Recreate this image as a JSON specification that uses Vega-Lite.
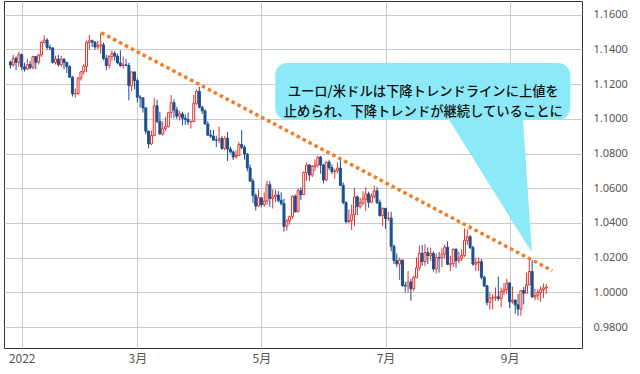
{
  "$schema": "https://vega.github.io/schema/vega-lite/v6.json",
  "width": 578,
  "height": 347,
  "autosize": {"type": "none"},
  "padding": {"left": 4, "top": 1, "right": 58, "bottom": 26},
  "background": "white",
  "config": {
    "view": {"stroke": "#333333", "strokeWidth": 1},
    "font": "Noto Sans",
    "axis": {"labelOverlap": false, "labelFlush": false}
  },
  "datasets": {
    "fx": [
      {"d":"2021-12-28","o":1.1327,"h":1.1335,"l":1.1290,"c":1.1310},
      {"d":"2021-12-29","o":1.1310,"h":1.1369,"l":1.1300,"c":1.1348},
      {"d":"2021-12-30","o":1.1348,"h":1.1360,"l":1.1280,"c":1.1325},
      {"d":"2021-12-31","o":1.1325,"h":1.1386,"l":1.1300,"c":1.1370},
      {"d":"2022-01-03","o":1.1370,"h":1.1376,"l":1.1280,"c":1.1299},
      {"d":"2022-01-04","o":1.1299,"h":1.1323,"l":1.1272,"c":1.1286},
      {"d":"2022-01-05","o":1.1286,"h":1.1346,"l":1.1284,"c":1.1313},
      {"d":"2022-01-06","o":1.1313,"h":1.1332,"l":1.1285,"c":1.1295},
      {"d":"2022-01-07","o":1.1295,"h":1.1364,"l":1.1285,"c":1.1359},
      {"d":"2022-01-10","o":1.1359,"h":1.1362,"l":1.1285,"c":1.1326},
      {"d":"2022-01-11","o":1.1326,"h":1.1375,"l":1.1314,"c":1.1368},
      {"d":"2022-01-12","o":1.1368,"h":1.1449,"l":1.1356,"c":1.1440},
      {"d":"2022-01-13","o":1.1440,"h":1.1482,"l":1.1434,"c":1.1454},
      {"d":"2022-01-14","o":1.1454,"h":1.1465,"l":1.1398,"c":1.1412},
      {"d":"2022-01-17","o":1.1412,"h":1.1428,"l":1.1394,"c":1.1408},
      {"d":"2022-01-18","o":1.1408,"h":1.1414,"l":1.1318,"c":1.1325},
      {"d":"2022-01-19","o":1.1325,"h":1.1364,"l":1.1313,"c":1.1344},
      {"d":"2022-01-20","o":1.1344,"h":1.1369,"l":1.1301,"c":1.1312},
      {"d":"2022-01-21","o":1.1312,"h":1.1363,"l":1.1300,"c":1.1344},
      {"d":"2022-01-24","o":1.1344,"h":1.1349,"l":1.1285,"c":1.1325},
      {"d":"2022-01-25","o":1.1325,"h":1.1328,"l":1.1264,"c":1.1300},
      {"d":"2022-01-26","o":1.1300,"h":1.1309,"l":1.1235,"c":1.1240},
      {"d":"2022-01-27","o":1.1240,"h":1.1246,"l":1.1128,"c":1.1144},
      {"d":"2022-01-28","o":1.1144,"h":1.1175,"l":1.1121,"c":1.1146},
      {"d":"2022-01-31","o":1.1146,"h":1.1240,"l":1.1138,"c":1.1235},
      {"d":"2022-02-01","o":1.1235,"h":1.1275,"l":1.1220,"c":1.1271},
      {"d":"2022-02-02","o":1.1271,"h":1.1315,"l":1.1255,"c":1.1303},
      {"d":"2022-02-03","o":1.1303,"h":1.1450,"l":1.1268,"c":1.1440},
      {"d":"2022-02-04","o":1.1440,"h":1.1483,"l":1.1398,"c":1.1450},
      {"d":"2022-02-07","o":1.1450,"h":1.1457,"l":1.1414,"c":1.1442},
      {"d":"2022-02-08","o":1.1442,"h":1.1446,"l":1.1398,"c":1.1414},
      {"d":"2022-02-09","o":1.1414,"h":1.1449,"l":1.1402,"c":1.1423},
      {"d":"2022-02-10","o":1.1423,"h":1.1495,"l":1.1375,"c":1.1426},
      {"d":"2022-02-11","o":1.1426,"h":1.1438,"l":1.1338,"c":1.1348},
      {"d":"2022-02-14","o":1.1348,"h":1.1369,"l":1.1280,"c":1.1307},
      {"d":"2022-02-15","o":1.1307,"h":1.1367,"l":1.1290,"c":1.1359},
      {"d":"2022-02-16","o":1.1359,"h":1.1395,"l":1.1335,"c":1.1377},
      {"d":"2022-02-17","o":1.1377,"h":1.1390,"l":1.1335,"c":1.1361},
      {"d":"2022-02-18","o":1.1361,"h":1.1375,"l":1.1314,"c":1.1322},
      {"d":"2022-02-21","o":1.1322,"h":1.1395,"l":1.1300,"c":1.1307},
      {"d":"2022-02-22","o":1.1307,"h":1.1360,"l":1.1290,"c":1.1311},
      {"d":"2022-02-23","o":1.1311,"h":1.1345,"l":1.1305,"c":1.1308},
      {"d":"2022-02-24","o":1.1308,"h":1.1322,"l":1.1106,"c":1.1191},
      {"d":"2022-02-25","o":1.1191,"h":1.1274,"l":1.1158,"c":1.1270},
      {"d":"2022-02-28","o":1.1270,"h":1.1274,"l":1.1170,"c":1.1220},
      {"d":"2022-03-01","o":1.1220,"h":1.1234,"l":1.1094,"c":1.1125},
      {"d":"2022-03-02","o":1.1125,"h":1.1138,"l":1.1065,"c":1.1120},
      {"d":"2022-03-03","o":1.1120,"h":1.1124,"l":1.1036,"c":1.1063},
      {"d":"2022-03-04","o":1.1063,"h":1.1066,"l":1.0910,"c":1.0929},
      {"d":"2022-03-07","o":1.0929,"h":1.0932,"l":1.0830,"c":1.0855},
      {"d":"2022-03-08","o":1.0855,"h":1.0932,"l":1.0848,"c":1.0903},
      {"d":"2022-03-09","o":1.0903,"h":1.1120,"l":1.0900,"c":1.1075},
      {"d":"2022-03-10","o":1.1075,"h":1.1110,"l":1.0975,"c":1.0985},
      {"d":"2022-03-11","o":1.0985,"h":1.1040,"l":1.0910,"c":1.0912},
      {"d":"2022-03-14","o":1.0912,"h":1.0985,"l":1.0903,"c":1.0942},
      {"d":"2022-03-15","o":1.0942,"h":1.1010,"l":1.0930,"c":1.0955},
      {"d":"2022-03-16","o":1.0955,"h":1.1040,"l":1.0950,"c":1.1035},
      {"d":"2022-03-17","o":1.1035,"h":1.1137,"l":1.1005,"c":1.1093},
      {"d":"2022-03-18","o":1.1093,"h":1.1112,"l":1.1004,"c":1.1051},
      {"d":"2022-03-21","o":1.1051,"h":1.1070,"l":1.1000,"c":1.1015},
      {"d":"2022-03-22","o":1.1015,"h":1.1045,"l":1.0990,"c":1.1028},
      {"d":"2022-03-23","o":1.1028,"h":1.1040,"l":1.0962,"c":1.1003},
      {"d":"2022-03-24","o":1.1003,"h":1.1025,"l":1.0965,"c":1.0996},
      {"d":"2022-03-25","o":1.0996,"h":1.1036,"l":1.0964,"c":1.0983},
      {"d":"2022-03-28","o":1.0983,"h":1.0990,"l":1.0944,"c":1.0984},
      {"d":"2022-03-29","o":1.0984,"h":1.1137,"l":1.0981,"c":1.1089},
      {"d":"2022-03-30","o":1.1089,"h":1.1170,"l":1.1080,"c":1.1158},
      {"d":"2022-03-31","o":1.1158,"h":1.1185,"l":1.1060,"c":1.1067},
      {"d":"2022-04-01","o":1.1067,"h":1.1076,"l":1.1027,"c":1.1046},
      {"d":"2022-04-04","o":1.1046,"h":1.1054,"l":1.0968,"c":1.0970},
      {"d":"2022-04-05","o":1.0970,"h":1.0985,"l":1.0902,"c":1.0906},
      {"d":"2022-04-06","o":1.0906,"h":1.0937,"l":1.0890,"c":1.0900},
      {"d":"2022-04-07","o":1.0900,"h":1.0936,"l":1.0876,"c":1.0877},
      {"d":"2022-04-08","o":1.0877,"h":1.0903,"l":1.0837,"c":1.0876},
      {"d":"2022-04-11","o":1.0876,"h":1.0955,"l":1.0860,"c":1.0886},
      {"d":"2022-04-12","o":1.0886,"h":1.0900,"l":1.0822,"c":1.0829},
      {"d":"2022-04-13","o":1.0829,"h":1.0900,"l":1.0818,"c":1.0888},
      {"d":"2022-04-14","o":1.0888,"h":1.0924,"l":1.0757,"c":1.0826},
      {"d":"2022-04-15","o":1.0826,"h":1.0840,"l":1.0800,"c":1.0809},
      {"d":"2022-04-18","o":1.0809,"h":1.0818,"l":1.0762,"c":1.0780},
      {"d":"2022-04-19","o":1.0780,"h":1.0818,"l":1.0770,"c":1.0789},
      {"d":"2022-04-20","o":1.0789,"h":1.0866,"l":1.0788,"c":1.0852},
      {"d":"2022-04-21","o":1.0852,"h":1.0936,"l":1.0825,"c":1.0835},
      {"d":"2022-04-22","o":1.0835,"h":1.0848,"l":1.0765,"c":1.0797},
      {"d":"2022-04-25","o":1.0797,"h":1.0803,"l":1.0697,"c":1.0717},
      {"d":"2022-04-26","o":1.0717,"h":1.0737,"l":1.0637,"c":1.0641},
      {"d":"2022-04-27","o":1.0641,"h":1.0656,"l":1.0515,"c":1.0558},
      {"d":"2022-04-28","o":1.0558,"h":1.0570,"l":1.0471,"c":1.0497},
      {"d":"2022-04-29","o":1.0497,"h":1.0594,"l":1.0495,"c":1.0545},
      {"d":"2022-05-02","o":1.0545,"h":1.0546,"l":1.0490,"c":1.0506},
      {"d":"2022-05-03","o":1.0506,"h":1.0576,"l":1.0492,"c":1.0526},
      {"d":"2022-05-04","o":1.0526,"h":1.0642,"l":1.0505,"c":1.0620},
      {"d":"2022-05-05","o":1.0620,"h":1.0641,"l":1.0493,"c":1.0541},
      {"d":"2022-05-06","o":1.0541,"h":1.0593,"l":1.0483,"c":1.0551},
      {"d":"2022-05-09","o":1.0551,"h":1.0592,"l":1.0520,"c":1.0561},
      {"d":"2022-05-10","o":1.0561,"h":1.0583,"l":1.0520,"c":1.0530},
      {"d":"2022-05-11","o":1.0530,"h":1.0576,"l":1.0500,"c":1.0512},
      {"d":"2022-05-12","o":1.0512,"h":1.0540,"l":1.0350,"c":1.0380},
      {"d":"2022-05-13","o":1.0380,"h":1.0424,"l":1.0355,"c":1.0412},
      {"d":"2022-05-16","o":1.0412,"h":1.0442,"l":1.0390,"c":1.0436},
      {"d":"2022-05-17","o":1.0436,"h":1.0559,"l":1.0424,"c":1.0554},
      {"d":"2022-05-18","o":1.0554,"h":1.0564,"l":1.0460,"c":1.0464},
      {"d":"2022-05-19","o":1.0464,"h":1.0600,"l":1.0461,"c":1.0586},
      {"d":"2022-05-20","o":1.0586,"h":1.0605,"l":1.0532,"c":1.0563},
      {"d":"2022-05-23","o":1.0563,"h":1.0697,"l":1.0560,"c":1.0690},
      {"d":"2022-05-24","o":1.0690,"h":1.0748,"l":1.0642,"c":1.0734},
      {"d":"2022-05-25","o":1.0734,"h":1.0737,"l":1.0642,"c":1.0676},
      {"d":"2022-05-26","o":1.0676,"h":1.0733,"l":1.0664,"c":1.0725},
      {"d":"2022-05-27","o":1.0725,"h":1.0766,"l":1.0698,"c":1.0733},
      {"d":"2022-05-30","o":1.0733,"h":1.0787,"l":1.0720,"c":1.0779},
      {"d":"2022-05-31","o":1.0779,"h":1.0786,"l":1.0684,"c":1.0734},
      {"d":"2022-06-01","o":1.0734,"h":1.0740,"l":1.0627,"c":1.0648},
      {"d":"2022-06-02","o":1.0648,"h":1.0754,"l":1.0642,"c":1.0750},
      {"d":"2022-06-03","o":1.0750,"h":1.0764,"l":1.0704,"c":1.0719},
      {"d":"2022-06-06","o":1.0719,"h":1.0737,"l":1.0681,"c":1.0695},
      {"d":"2022-06-07","o":1.0695,"h":1.0712,"l":1.0654,"c":1.0700},
      {"d":"2022-06-08","o":1.0700,"h":1.0748,"l":1.0686,"c":1.0716},
      {"d":"2022-06-09","o":1.0716,"h":1.0774,"l":1.0614,"c":1.0616},
      {"d":"2022-06-10","o":1.0616,"h":1.0634,"l":1.0506,"c":1.0518},
      {"d":"2022-06-13","o":1.0518,"h":1.0524,"l":1.0397,"c":1.0407},
      {"d":"2022-06-14","o":1.0407,"h":1.0478,"l":1.0398,"c":1.0414},
      {"d":"2022-06-15","o":1.0414,"h":1.0506,"l":1.0359,"c":1.0447},
      {"d":"2022-06-16","o":1.0447,"h":1.0601,"l":1.0381,"c":1.0550},
      {"d":"2022-06-17","o":1.0550,"h":1.0559,"l":1.0444,"c":1.0494},
      {"d":"2022-06-20","o":1.0494,"h":1.0546,"l":1.0482,"c":1.0515},
      {"d":"2022-06-21","o":1.0515,"h":1.0583,"l":1.0502,"c":1.0537},
      {"d":"2022-06-22","o":1.0537,"h":1.0606,"l":1.0470,"c":1.0567},
      {"d":"2022-06-23","o":1.0567,"h":1.0580,"l":1.0488,"c":1.0519},
      {"d":"2022-06-24","o":1.0519,"h":1.0571,"l":1.0513,"c":1.0554},
      {"d":"2022-06-27","o":1.0554,"h":1.0615,"l":1.0542,"c":1.0585},
      {"d":"2022-06-28","o":1.0585,"h":1.0606,"l":1.0509,"c":1.0517},
      {"d":"2022-06-29","o":1.0517,"h":1.0535,"l":1.0437,"c":1.0442},
      {"d":"2022-06-30","o":1.0442,"h":1.0488,"l":1.0382,"c":1.0484},
      {"d":"2022-07-01","o":1.0484,"h":1.0486,"l":1.0366,"c":1.0425},
      {"d":"2022-07-04","o":1.0425,"h":1.0464,"l":1.0410,"c":1.0428},
      {"d":"2022-07-05","o":1.0428,"h":1.0464,"l":1.0236,"c":1.0265},
      {"d":"2022-07-06","o":1.0265,"h":1.0275,"l":1.0162,"c":1.0183},
      {"d":"2022-07-07","o":1.0183,"h":1.0224,"l":1.0144,"c":1.0163},
      {"d":"2022-07-08","o":1.0163,"h":1.0200,"l":1.0072,"c":1.0186},
      {"d":"2022-07-11","o":1.0186,"h":1.0187,"l":1.0031,"c":1.0039},
      {"d":"2022-07-12","o":1.0039,"h":1.0061,"l":0.9999,"c":1.0036},
      {"d":"2022-07-13","o":1.0036,"h":1.0123,"l":0.9998,"c":1.0059},
      {"d":"2022-07-14","o":1.0059,"h":1.0079,"l":0.9952,"c":1.0020},
      {"d":"2022-07-15","o":1.0020,"h":1.0096,"l":1.0006,"c":1.0086},
      {"d":"2022-07-18","o":1.0086,"h":1.0201,"l":1.0081,"c":1.0141},
      {"d":"2022-07-19","o":1.0141,"h":1.0269,"l":1.0124,"c":1.0225},
      {"d":"2022-07-20","o":1.0225,"h":1.0273,"l":1.0153,"c":1.0177},
      {"d":"2022-07-21","o":1.0177,"h":1.0278,"l":1.0152,"c":1.0229},
      {"d":"2022-07-22","o":1.0229,"h":1.0258,"l":1.0164,"c":1.0211},
      {"d":"2022-07-25","o":1.0211,"h":1.0257,"l":1.0181,"c":1.0224},
      {"d":"2022-07-26","o":1.0224,"h":1.0236,"l":1.0120,"c":1.0135},
      {"d":"2022-07-27","o":1.0135,"h":1.0224,"l":1.0108,"c":1.0200},
      {"d":"2022-07-28","o":1.0200,"h":1.0234,"l":1.0113,"c":1.0198},
      {"d":"2022-07-29","o":1.0198,"h":1.0254,"l":1.0145,"c":1.0220},
      {"d":"2022-08-01","o":1.0220,"h":1.0275,"l":1.0195,"c":1.0260},
      {"d":"2022-08-02","o":1.0260,"h":1.0294,"l":1.0160,"c":1.0161},
      {"d":"2022-08-03","o":1.0161,"h":1.0210,"l":1.0123,"c":1.0165},
      {"d":"2022-08-04","o":1.0165,"h":1.0254,"l":1.0145,"c":1.0248},
      {"d":"2022-08-05","o":1.0248,"h":1.0254,"l":1.0141,"c":1.0182},
      {"d":"2022-08-08","o":1.0182,"h":1.0234,"l":1.0166,"c":1.0197},
      {"d":"2022-08-09","o":1.0197,"h":1.0248,"l":1.0181,"c":1.0213},
      {"d":"2022-08-10","o":1.0213,"h":1.0368,"l":1.0202,"c":1.0298},
      {"d":"2022-08-11","o":1.0298,"h":1.0365,"l":1.0274,"c":1.0320},
      {"d":"2022-08-12","o":1.0320,"h":1.0330,"l":1.0249,"c":1.0258},
      {"d":"2022-08-15","o":1.0258,"h":1.0268,"l":1.0153,"c":1.0162},
      {"d":"2022-08-16","o":1.0162,"h":1.0198,"l":1.0122,"c":1.0170},
      {"d":"2022-08-17","o":1.0170,"h":1.0202,"l":1.0123,"c":1.0176},
      {"d":"2022-08-18","o":1.0176,"h":1.0192,"l":1.0075,"c":1.0087},
      {"d":"2022-08-19","o":1.0087,"h":1.0095,"l":1.0030,"c":1.0037},
      {"d":"2022-08-22","o":1.0037,"h":1.0042,"l":0.9925,"c":0.9942},
      {"d":"2022-08-23","o":0.9942,"h":0.9999,"l":0.9900,"c":0.9967},
      {"d":"2022-08-24","o":0.9967,"h":0.9990,"l":0.9902,"c":0.9969},
      {"d":"2022-08-25","o":0.9969,"h":1.0028,"l":0.9950,"c":0.9974},
      {"d":"2022-08-26","o":0.9974,"h":1.0090,"l":0.9949,"c":0.9964},
      {"d":"2022-08-29","o":0.9964,"h":1.0027,"l":0.9914,"c":1.0004},
      {"d":"2022-08-30","o":1.0004,"h":1.0054,"l":0.9984,"c":1.0016},
      {"d":"2022-08-31","o":1.0016,"h":1.0079,"l":0.9990,"c":1.0054},
      {"d":"2022-09-01","o":1.0054,"h":1.0057,"l":0.9910,"c":0.9945},
      {"d":"2022-09-02","o":0.9945,"h":1.0033,"l":0.9934,"c":0.9955},
      {"d":"2022-09-05","o":0.9955,"h":0.9958,"l":0.9877,"c":0.9928},
      {"d":"2022-09-06","o":0.9928,"h":0.9990,"l":0.9864,"c":0.9903},
      {"d":"2022-09-07","o":0.9903,"h":1.0011,"l":0.9865,"c":1.0010},
      {"d":"2022-09-08","o":1.0010,"h":1.0030,"l":0.9930,"c":0.9995},
      {"d":"2022-09-09","o":0.9995,"h":1.0113,"l":0.9995,"c":1.0043},
      {"d":"2022-09-12","o":1.0043,"h":1.0198,"l":1.0040,"c":1.0120},
      {"d":"2022-09-13","o":1.0120,"h":1.0187,"l":0.9968,"c":0.9973},
      {"d":"2022-09-14","o":0.9973,"h":1.0020,"l":0.9954,"c":0.9980},
      {"d":"2022-09-15","o":0.9980,"h":1.0017,"l":0.9956,"c":0.9998},
      {"d":"2022-09-16","o":0.9998,"h":1.0036,"l":0.9945,"c":1.0015},
      {"d":"2022-09-19","o":1.0015,"h":1.0050,"l":0.9967,"c":1.0025},
      {"d":"2022-09-20","o":1.0025,"h":1.0050,"l":0.9990,"c":1.0030}
    ],
    "trend": [{"n": 33.2, "v": 1.1496}, {"n": 193.1, "v": 1.0125}],
    "box": [{"n": 94.9, "n2": 199.5, "v": 1.1322, "v2": 1.0993}],
    "tri": [
      {"n": 155.9, "v": 1.1010, "v2": 1.1010},
      {"n": 182.7, "v": 1.1010, "v2": 1.0312},
      {"n": 185.9, "v": 1.0232, "v2": 1.0232}
    ],
    "note": [{"n": 147.4, "v": 1.1156, "label": "ユーロ/米ドルは下降トレンドラインに上値を\n止められ、下降トレンドが継続していることに"}]
  },
  "layer": [
    {
      "data": {"name": "fx"},
      "transform": [{"window": [{"op": "row_number", "as": "n"}]}],
      "encoding": {
        "x": {
          "field": "n", "type": "quantitative",
          "scale": {"domain": [0.5, 201.9], "nice": false, "zero": false},
          "axis": {
            "values": [5, 46, 90, 134, 178],
            "tickCount": 40,
            "labelExpr": "datum.value == 5 ? '2022' : datum.value == 46 ? '3月' : datum.value == 90 ? '5月' : datum.value == 134 ? '7月' : '9月'",
            "grid": true, "gridColor": "#cccccc", "gridWidth": 1,
            "ticks": false, "domain": false, "title": null,
            "labelFlush": false, "labelOverlap": false,
            "labelFont": "Noto Sans CJK JP", "labelFontSize": 12, "labelColor": "#555555", "labelPadding": 5
          }
        },
        "y": {
          "field": "l", "type": "quantitative",
          "scale": {"domain": [0.9679, 1.1679], "nice": false, "zero": false},
          "axis": {
            "orient": "right",
            "values": [0.98, 1.0, 1.02, 1.04, 1.06, 1.08, 1.1, 1.12, 1.14, 1.16],
            "tickCount": 40,
            "format": ".4f",
            "grid": true, "gridColor": "#cccccc", "gridWidth": 1,
            "ticks": false, "domain": false, "title": null,
            "labelOverlap": false, "labelFlush": false,
            "labelFont": "Noto Sans", "labelFontSize": 11, "labelColor": "#555555", "labelPadding": 11
          }
        }
      },
      "layer": [
        {
          "mark": {"type": "rule", "strokeWidth": 1},
          "encoding": {
            "y2": {"field": "h"},
            "color": {"condition": {"test": "datum.c >= datum.o", "value": "#e0342e"}, "value": "#1c4f91"}
          }
        },
        {
          "mark": {"type": "bar", "width": 2, "strokeWidth": 1},
          "encoding": {
            "y": {"field": "o", "type": "quantitative"},
            "y2": {"field": "c"},
            "fill": {"condition": {"test": "datum.c >= datum.o", "value": "#ffffff"}, "value": "#1c4f91"},
            "stroke": {"condition": {"test": "datum.c >= datum.o", "value": "#e0342e"}, "value": "#1c4f91"}
          }
        }
      ]
    },
    {
      "data": {"name": "trend"},
      "mark": {"type": "line", "color": "#f07d2a", "strokeWidth": 3.5, "strokeDash": [3.5, 3.2]},
      "encoding": {
        "x": {"field": "n", "type": "quantitative"},
        "y": {"field": "v", "type": "quantitative"}
      }
    },
    {
      "data": {"name": "box"},
      "mark": {"type": "rect", "color": "#8ce9f8", "cornerRadius": 12},
      "encoding": {
        "x": {"field": "n", "type": "quantitative"},
        "x2": {"field": "n2"},
        "y": {"field": "v", "type": "quantitative"},
        "y2": {"field": "v2"}
      }
    },
    {
      "data": {"name": "tri"},
      "mark": {"type": "area", "color": "#8ce9f8", "opacity": 1},
      "encoding": {
        "x": {"field": "n", "type": "quantitative"},
        "y": {"field": "v", "type": "quantitative"},
        "y2": {"field": "v2"}
      }
    },
    {
      "data": {"name": "note"},
      "mark": {"type": "text", "font": "Noto Sans CJK JP", "fontSize": 13.3, "fontWeight": 500, "lineHeight": 20, "lineBreak": "\n", "color": "#111111", "align": "center", "baseline": "middle"},
      "encoding": {
        "x": {"field": "n", "type": "quantitative"},
        "y": {"field": "v", "type": "quantitative"},
        "text": {"field": "label"}
      }
    }
  ]
}
